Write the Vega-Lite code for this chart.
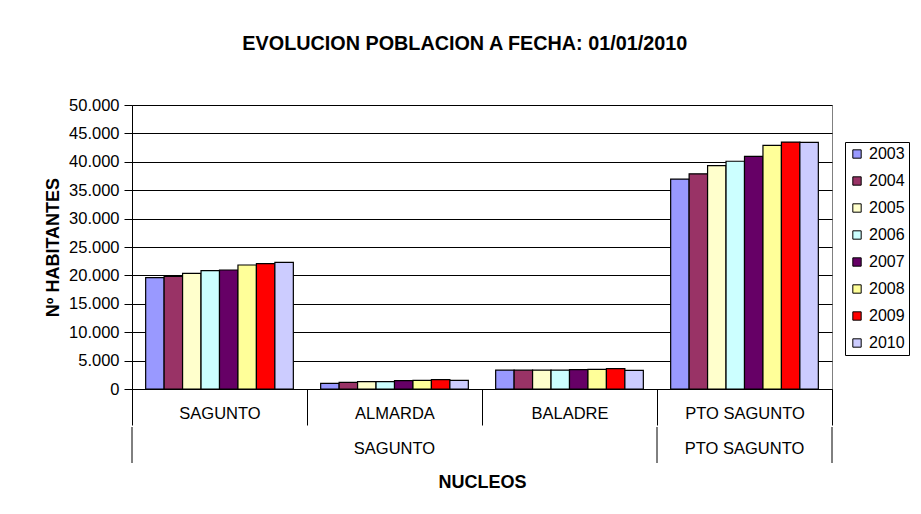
{
  "$schema": "https://vega.github.io/schema/vega-lite/v6.json",
  "padding": {"left": 44, "top": 33, "right": 0, "bottom": 0},
  "background": "white",
  "config": {
    "font": "Liberation Sans",
    "locale": {"number": {"decimal": ",", "thousands": ".", "grouping": [3], "currency": ["", " €"]}},
    "axis": {"labelColor": "black", "titleColor": "black", "labelFont": "Liberation Sans", "titleFont": "Liberation Sans"},
    "concat": {"spacing": 0}
  },
  "title": {
    "text": "EVOLUCION POBLACION A FECHA: 01/01/2010",
    "fontSize": 19.8,
    "fontWeight": "bold",
    "color": "black",
    "anchor": "middle",
    "offset": 43,
    "dx": -12
  },
  "datasets": {
    "pop": [
      {"nucleo": "SAGUNTO", "year": "2003", "hab": 19600},
      {"nucleo": "SAGUNTO", "year": "2004", "hab": 19830},
      {"nucleo": "SAGUNTO", "year": "2005", "hab": 20360},
      {"nucleo": "SAGUNTO", "year": "2006", "hab": 20830},
      {"nucleo": "SAGUNTO", "year": "2007", "hab": 20950},
      {"nucleo": "SAGUNTO", "year": "2008", "hab": 21830},
      {"nucleo": "SAGUNTO", "year": "2009", "hab": 22060},
      {"nucleo": "SAGUNTO", "year": "2010", "hab": 22290},
      {"nucleo": "ALMARDA", "year": "2003", "hab": 990},
      {"nucleo": "ALMARDA", "year": "2004", "hab": 1170},
      {"nucleo": "ALMARDA", "year": "2005", "hab": 1290},
      {"nucleo": "ALMARDA", "year": "2006", "hab": 1290},
      {"nucleo": "ALMARDA", "year": "2007", "hab": 1460},
      {"nucleo": "ALMARDA", "year": "2008", "hab": 1520},
      {"nucleo": "ALMARDA", "year": "2009", "hab": 1640},
      {"nucleo": "ALMARDA", "year": "2010", "hab": 1520},
      {"nucleo": "BALADRE", "year": "2003", "hab": 3340},
      {"nucleo": "BALADRE", "year": "2004", "hab": 3320},
      {"nucleo": "BALADRE", "year": "2005", "hab": 3330},
      {"nucleo": "BALADRE", "year": "2006", "hab": 3340},
      {"nucleo": "BALADRE", "year": "2007", "hab": 3400},
      {"nucleo": "BALADRE", "year": "2008", "hab": 3460},
      {"nucleo": "BALADRE", "year": "2009", "hab": 3570},
      {"nucleo": "BALADRE", "year": "2010", "hab": 3280},
      {"nucleo": "PTO SAGUNTO", "year": "2003", "hab": 36950},
      {"nucleo": "PTO SAGUNTO", "year": "2004", "hab": 37890},
      {"nucleo": "PTO SAGUNTO", "year": "2005", "hab": 39310},
      {"nucleo": "PTO SAGUNTO", "year": "2006", "hab": 40100},
      {"nucleo": "PTO SAGUNTO", "year": "2007", "hab": 40960},
      {"nucleo": "PTO SAGUNTO", "year": "2008", "hab": 42890},
      {"nucleo": "PTO SAGUNTO", "year": "2009", "hab": 43480},
      {"nucleo": "PTO SAGUNTO", "year": "2010", "hab": 43420}
    ],
    "parents": [
      {"parent": "SAGUNTO", "at": "ALMARDA"},
      {"parent": "PTO SAGUNTO", "at": "PTO SAGUNTO"}
    ],
    "starts": [
      {"edge": "SAGUNTO"},
      {"edge": "PTO SAGUNTO"}
    ],
    "ends": [
      {"edge": "PTO SAGUNTO"}
    ]
  },
  "vconcat": [
    {
      "width": 700,
      "height": 284,
      "view": {"stroke": "#808080", "strokeWidth": 1},
      "data": {"name": "pop"},
      "mark": {"type": "bar", "stroke": "black", "strokeWidth": 1.2},
      "encoding": {
        "x": {
          "field": "nucleo",
          "type": "nominal",
          "sort": ["SAGUNTO", "ALMARDA", "BALADRE", "PTO SAGUNTO"],
          "scale": {"domain": ["SAGUNTO", "ALMARDA", "BALADRE", "PTO SAGUNTO"], "paddingInner": 0, "paddingOuter": 0},
          "axis": {
            "title": null,
            "labelAngle": 0,
            "tickBand": "extent",
            "tickSize": 36,
            "tickColor": "black",
            "domainColor": "black",
            "labelFontSize": 16.5,
            "labelPadding": -12,
            "labelBaseline": "middle",
            "grid": false
          }
        },
        "xOffset": {
          "field": "year",
          "type": "nominal",
          "scale": {"paddingInner": 0, "paddingOuter": 0.74}
        },
        "y": {
          "field": "hab",
          "type": "quantitative",
          "scale": {"domain": [0, 50000], "nice": false},
          "axis": {
            "title": "Nº HABITANTES",
            "titleFontSize": 18,
            "titleFontWeight": "bold",
            "titlePadding": 6,
            "values": [0, 5000, 10000, 15000, 20000, 25000, 30000, 35000, 40000, 45000, 50000],
            "format": ",d",
            "labelFontSize": 16.5,
            "labelPadding": 5,
            "tickSize": 8,
            "tickColor": "black",
            "domainColor": "black",
            "grid": true,
            "gridColor": "black",
            "gridOpacity": 1
          }
        },
        "color": {
          "field": "year",
          "type": "nominal",
          "scale": {
            "domain": ["2003", "2004", "2005", "2006", "2007", "2008", "2009", "2010"],
            "range": ["#9999FF", "#993366", "#FFFFCC", "#CCFFFF", "#660066", "#FFFF99", "#FF0000", "#CCCCFF"]
          },
          "legend": {
            "title": null,
            "orient": "none",
            "legendX": 713,
            "legendY": 37,
            "symbolType": "square",
            "symbolSize": 70,
            "symbolStrokeColor": "black",
            "symbolStrokeWidth": 1,
            "symbolOpacity": 1,
            "labelFontSize": 16,
            "labelColor": "black",
            "rowPadding": 11,
            "strokeColor": "black",
            "padding": 4,
            "fillColor": "white"
          }
        }
      }
    },
    {
      "width": 700,
      "height": 36,
      "view": {"stroke": null},
      "layer": [
        {
          "data": {"name": "parents"},
          "mark": {"type": "text", "fontSize": 16.5, "baseline": "middle", "color": "black", "dy": 4},
          "encoding": {
            "x": {
              "field": "at",
              "type": "nominal",
              "scale": {"domain": ["SAGUNTO", "ALMARDA", "BALADRE", "PTO SAGUNTO"], "paddingInner": 0, "paddingOuter": 0},
              "axis": {
                "title": "NUCLEOS",
                "titleFontSize": 18,
                "titleFontWeight": "bold",
                "titlePadding": 10,
                "labels": false,
                "ticks": false,
                "domain": false,
                "grid": false
              }
            },
            "text": {"field": "parent"}
          }
        },
        {
          "data": {"name": "starts"},
          "mark": {"type": "rule", "color": "black", "strokeWidth": 1},
          "encoding": {"x": {"field": "edge", "type": "nominal", "bandPosition": 0}}
        },
        {
          "data": {"name": "ends"},
          "mark": {"type": "rule", "color": "black", "strokeWidth": 1},
          "encoding": {"x": {"field": "edge", "type": "nominal", "bandPosition": 1}}
        }
      ]
    }
  ]
}
